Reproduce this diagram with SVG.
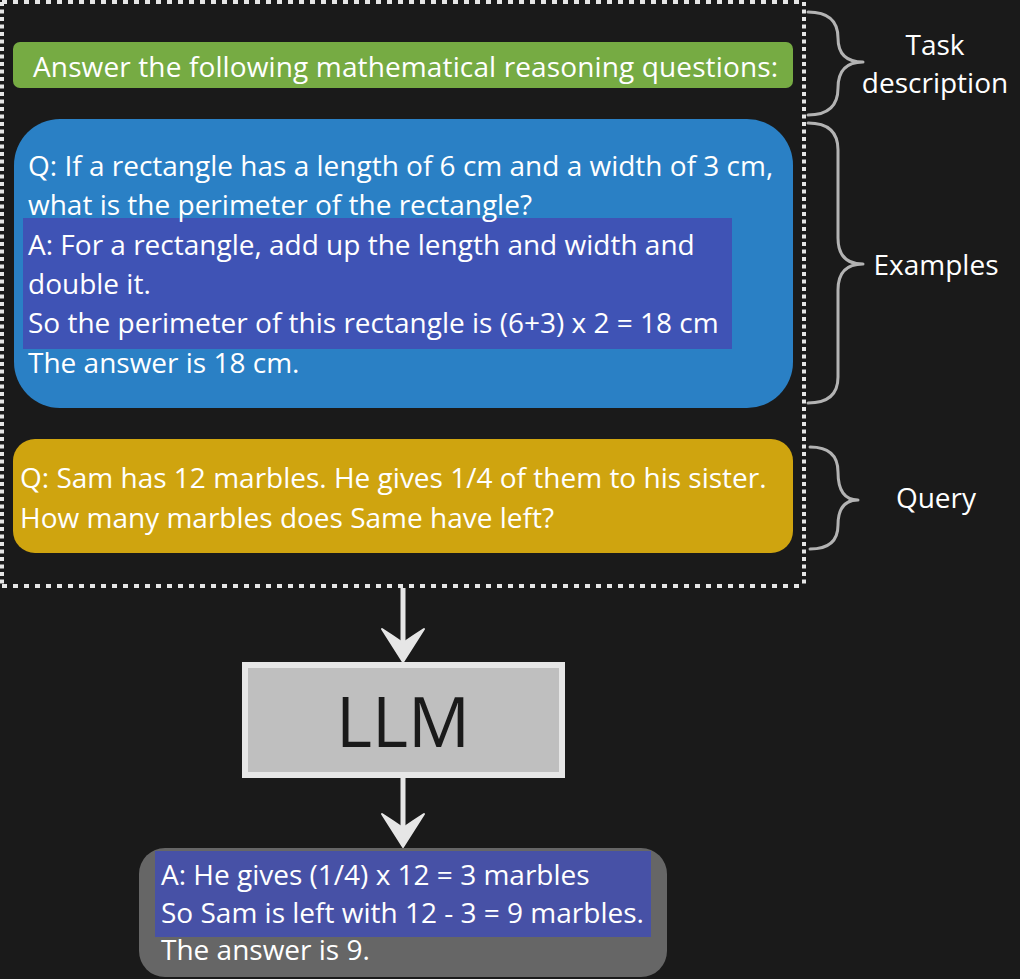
<svg xmlns="http://www.w3.org/2000/svg" width="1020" height="979" viewBox="0 0 1020 979">
<style>
text{font-family:"Open Sans","Noto Sans","DejaVu Sans",sans-serif;fill:#ffffff;font-size:28px}
.lbl{text-anchor:middle}
.brace{fill:none;stroke:#b3b3b3;stroke-width:3;stroke-linecap:round;stroke-linejoin:round}
.dash{stroke:#e6e6e6;stroke-width:4;fill:none}
.arrow{fill:#e6e6e6;stroke:#e6e6e6;stroke-width:2;stroke-linejoin:round}
.shaft{stroke:#e6e6e6;stroke-width:5}
</style>
<rect x="0" y="0" width="1020" height="979" fill="#1a1a1a"/>
<g id="prompt-frame">
<line class="dash" x1="2" y1="2" x2="804" y2="2" stroke-dasharray="5 6"/>
<line class="dash" x1="2" y1="586" x2="804" y2="586" stroke-dasharray="5 6"/>
<line class="dash" x1="2" y1="2" x2="2" y2="586" stroke-dasharray="4 3.5"/>
<line class="dash" x1="804" y1="2" x2="804" y2="586" stroke-dasharray="4 3.5"/>
</g>
<g id="task">
<rect x="13" y="42" width="780" height="46" rx="7" fill="#76ab43"/>
<text x="33" y="77" textLength="745">Answer the following mathematical reasoning questions:</text>
</g>
<g id="examples">
<rect x="14" y="119" width="779" height="289" rx="46" fill="#2a80c5"/>
<rect x="23" y="218" width="709" height="131" fill="#3f53b5"/>
<text x="28" y="176">Q: If a rectangle has a length of 6 cm and a width of 3 cm,</text>
<text x="28" y="215">what is the perimeter of the rectangle?</text>
<text x="28" y="255">A: For a rectangle, add up the length and width and</text>
<text x="28" y="294">double it.</text>
<text x="28" y="333">So the perimeter of this rectangle is (6+3) x 2 = 18 cm</text>
<text x="28" y="373">The answer is 18 cm.</text>
</g>
<g id="query">
<rect x="13" y="439" width="780" height="114" rx="22" fill="#cfa40f"/>
<text x="20" y="488">Q: Sam has 12 marbles. He gives 1/4 of them to his sister.</text>
<text x="20" y="528">How many marbles does Same have left?</text>
</g>
<g id="llm">
<rect x="245" y="665" width="317" height="110" fill="#bfbfbf" stroke="#e6e6e6" stroke-width="6"/>
<text x="403" y="747" text-anchor="middle" style="font-size:69px;fill:#1a1a1a">LLM</text>
</g>
<g id="answer">
<rect x="139" y="848" width="528" height="129" rx="26" fill="#666666"/>
<rect x="155" y="851" width="496" height="86" fill="#4751a6"/>
<text x="161" y="885">A: He gives (1/4) x 12 = 3 marbles</text>
<text x="161" y="923">So Sam is left with 12 - 3 = 9 marbles.</text>
<text x="161" y="960">The answer is 9.</text>
</g>
<g id="labels">
<path class="brace" d="M808,12 Q838,12 838,38 Q838,62 863,62 Q838,62 838,88 Q838,115 808,115"/>
<path class="brace" d="M808,123 Q838,123 838,150 L838,238 Q838,264 863,264 Q838,264 838,290 L838,377 Q838,403 808,403"/>
<path class="brace" d="M810,447 Q838,447 838,472 Q838,500 858,500 Q838,500 838,525 Q838,549 810,549"/>
<text class="lbl" x="935" y="55">Task</text>
<text class="lbl" x="935" y="93">description</text>
<text class="lbl" x="936" y="275">Examples</text>
<text class="lbl" x="936" y="508">Query</text>
</g>
<g id="connectors">
<line class="shaft" x1="403" y1="588" x2="403" y2="645"/>
<path class="arrow" d="M403,662 L382,629 Q393,636 403,643 Q413,636 424,629 Z"/>
<line class="shaft" x1="403" y1="778" x2="403" y2="830"/>
<path class="arrow" d="M403,847 L382,814 Q393,821 403,828 Q413,821 424,814 Z"/>
</g>
</svg>
